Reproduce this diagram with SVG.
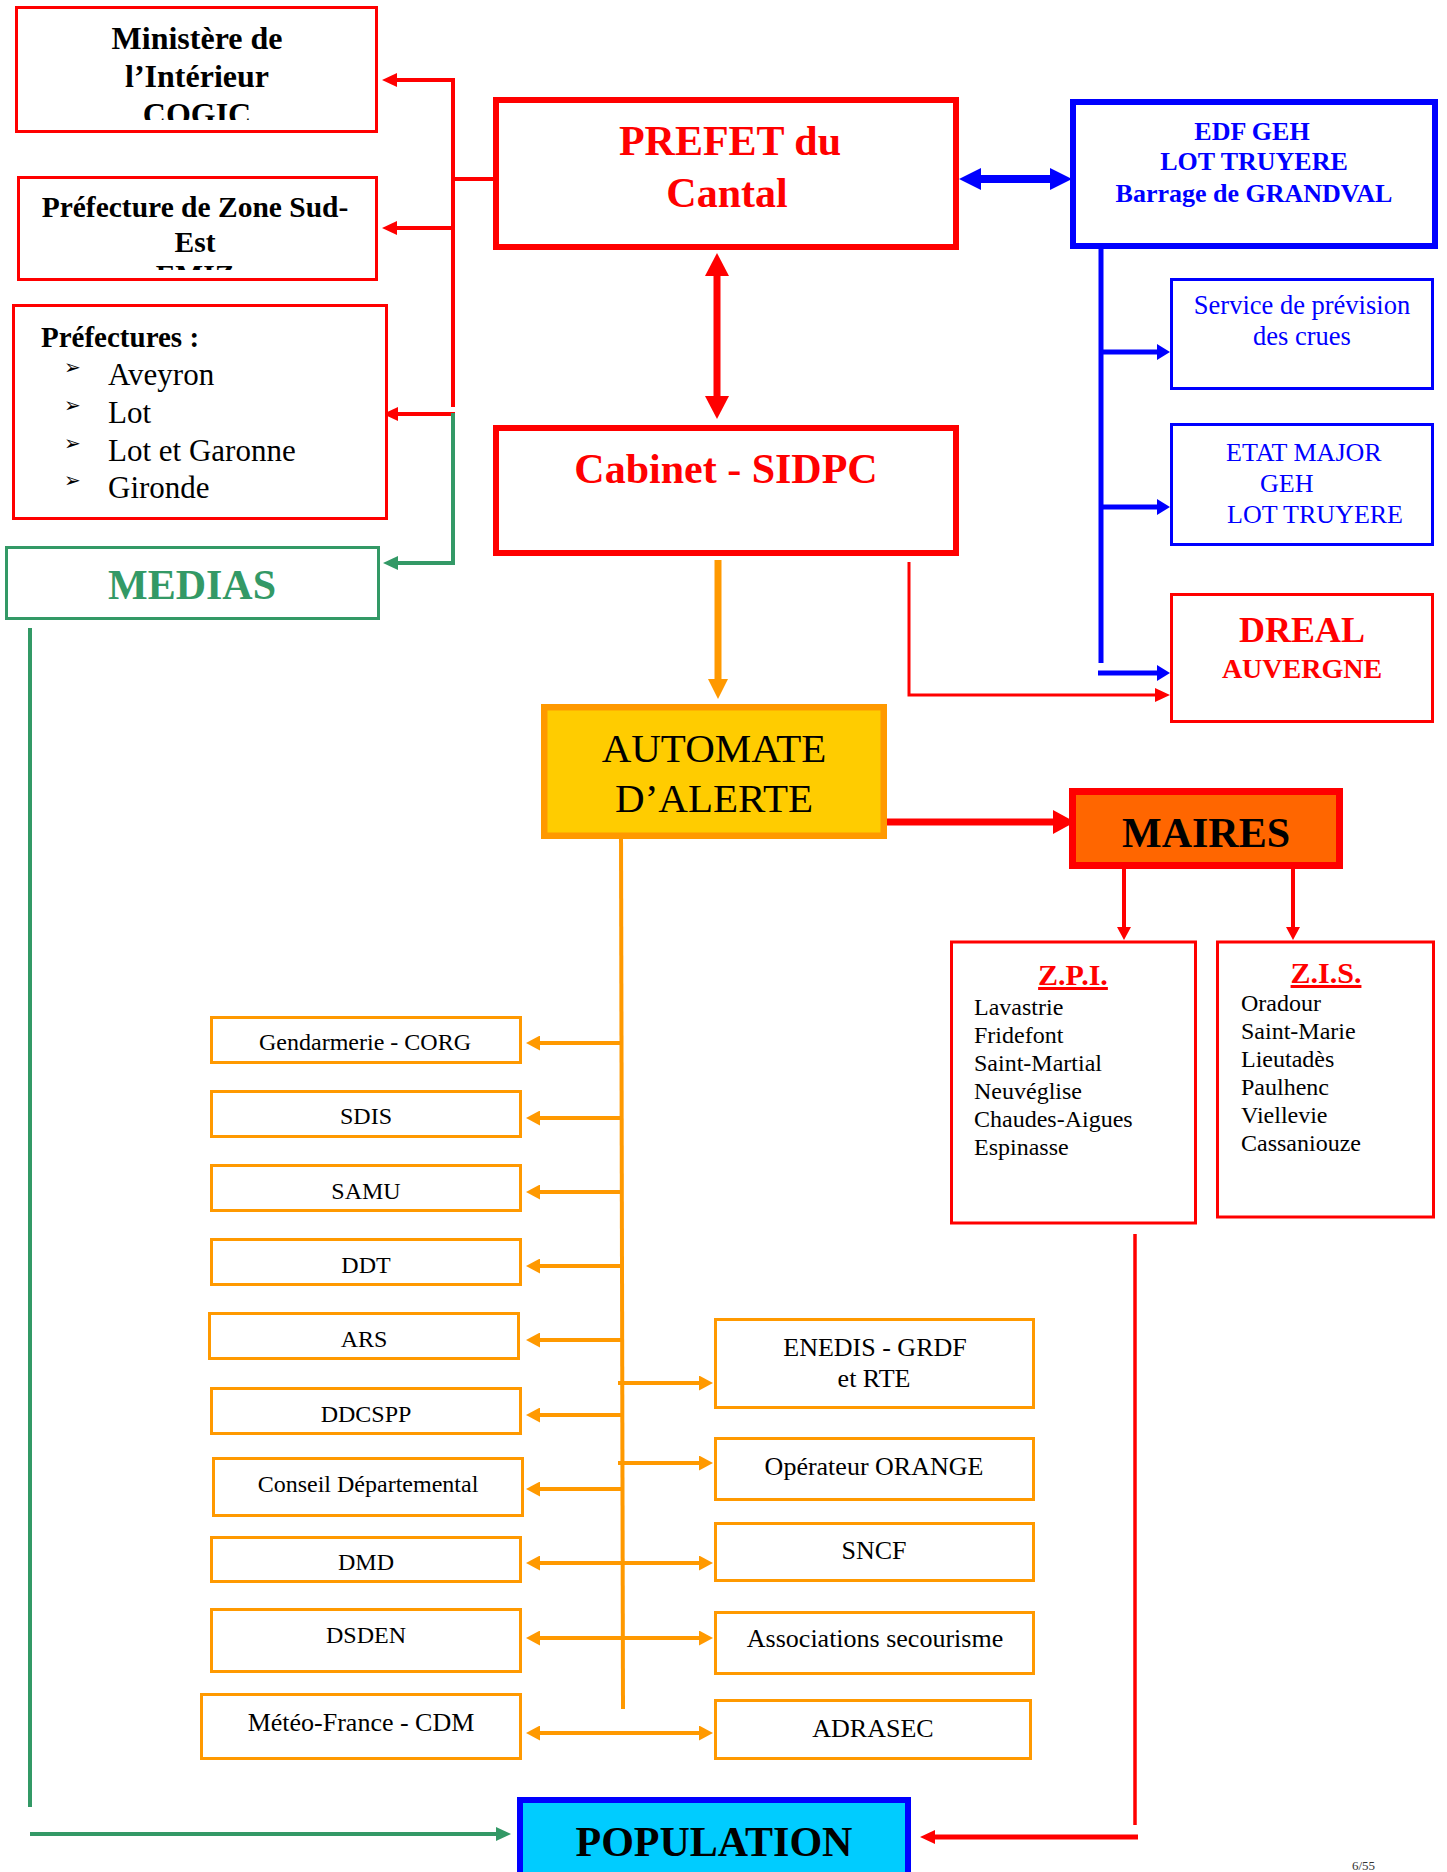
<svg xmlns="http://www.w3.org/2000/svg" width="1447" height="1872" viewBox="0 0 1447 1872">
<style>
text{font-family:"Liberation Serif","Times New Roman",serif}
.c{text-anchor:middle}
.b{font-weight:bold}
.box{fill:#fff}
.red{stroke:#FF0000}
.blue{stroke:#0000FF}
.org{stroke:#FF9900;stroke-width:3}
.grn{stroke:#339966}
.ln{fill:none}
.tr{fill:#FF0000}
.tb{fill:#0000FF}
.tg{fill:#339966}
.bul{font-family:"DejaVu Sans",sans-serif;font-size:20px}
</style>
<defs>
<clipPath id="clipCogic"><rect x="0" y="0" width="400" height="120"/></clipPath>
<clipPath id="clipEmiz"><rect x="0" y="170" width="400" height="100"/></clipPath>
<marker id="ao" markerUnits="userSpaceOnUse" markerWidth="14" markerHeight="15" refX="1" refY="7.5" orient="auto-start-reverse"><path d="M0,0 L14,7.5 L0,15 z" fill="#FF9900"/></marker>
<marker id="aoBig" markerUnits="userSpaceOnUse" markerWidth="20" markerHeight="20" refX="1" refY="10" orient="auto-start-reverse"><path d="M0,0 L20,10 L0,20 z" fill="#FF9900"/></marker>
<marker id="ar" markerUnits="userSpaceOnUse" markerWidth="15" markerHeight="14" refX="1" refY="7" orient="auto-start-reverse"><path d="M0,0 L15,7 L0,14 z" fill="#FF0000"/></marker>
<marker id="arS" markerUnits="userSpaceOnUse" markerWidth="13" markerHeight="14" refX="1" refY="7" orient="auto-start-reverse"><path d="M0,0 L13,7 L0,14 z" fill="#FF0000"/></marker>
<marker id="arBig" markerUnits="userSpaceOnUse" markerWidth="23" markerHeight="24" refX="1" refY="12" orient="auto-start-reverse"><path d="M0,0 L23,12 L0,24 z" fill="#FF0000"/></marker>
<marker id="arM" markerUnits="userSpaceOnUse" markerWidth="22" markerHeight="24" refX="1" refY="12" orient="auto-start-reverse"><path d="M0,0 L22,12 L0,24 z" fill="#FF0000"/></marker>
<marker id="ab" markerUnits="userSpaceOnUse" markerWidth="13" markerHeight="16" refX="1" refY="8" orient="auto-start-reverse"><path d="M0,0 L13,8 L0,16 z" fill="#0000FF"/></marker>
<marker id="abBig" markerUnits="userSpaceOnUse" markerWidth="22" markerHeight="22" refX="1" refY="11" orient="auto-start-reverse"><path d="M0,0 L22,11 L0,22 z" fill="#0000FF"/></marker>
<marker id="ag" markerUnits="userSpaceOnUse" markerWidth="15" markerHeight="14" refX="1" refY="7" orient="auto-start-reverse"><path d="M0,0 L15,7 L0,14 z" fill="#339966"/></marker>
</defs>
<rect width="1447" height="1872" fill="#fff"/>

<g id="connectors" class="ln">
  <path d="M453,78 V407" class="red" stroke-width="4"/>
  <path d="M453,80 H396" class="red" stroke-width="4" marker-end="url(#ar)"/>
  <path d="M453,228 H396" class="red" stroke-width="4" marker-end="url(#ar)"/>
  <path d="M451,179 H500" class="red" stroke-width="4"/>
  <path d="M455,414 H397" class="red" stroke-width="4" marker-end="url(#ar)"/>
  <path d="M453,413 V563 H397" class="grn" stroke-width="4" marker-end="url(#ag)"/>
  <path d="M30,628 V1807" class="grn" stroke-width="4"/>
  <path d="M30,1834 H497" class="grn" stroke-width="4" marker-end="url(#ag)"/>
  <path d="M980,179 H1051" class="blue" stroke-width="8" marker-start="url(#abBig)" marker-end="url(#abBig)"/>
  <path d="M1101,249 V663" class="blue" stroke-width="5"/>
  <path d="M1099,352 H1158" class="blue" stroke-width="5" marker-end="url(#ab)"/>
  <path d="M1099,507 H1158" class="blue" stroke-width="5" marker-end="url(#ab)"/>
  <path d="M1098,673 H1158" class="blue" stroke-width="5" marker-end="url(#ab)"/>
  <path d="M717,275 V397" class="red" stroke-width="7" marker-start="url(#arBig)" marker-end="url(#arBig)"/>
  <path d="M909,562 V695 H1156" class="red" stroke-width="3" marker-end="url(#ar)"/>
  <path d="M887,822 H1054" class="red" stroke-width="7" marker-end="url(#arM)"/>
  <path d="M1124,869 V928" class="red" stroke-width="4" marker-end="url(#arS)"/>
  <path d="M1293,869 V928" class="red" stroke-width="4" marker-end="url(#arS)"/>
  <path d="M1135,1234 V1825" class="red" stroke-width="3.5"/>
  <path d="M1138,1837 H934" class="red" stroke-width="5" marker-end="url(#ar)"/>
  <path d="M718,560 V680" stroke="#FF9900" stroke-width="7" marker-end="url(#aoBig)"/>
  <path d="M621,828 L623,1709" stroke="#FF9900" stroke-width="4"/>
  <g stroke="#FF9900" stroke-width="4">
    <path d="M622,1043 H539" marker-end="url(#ao)"/>
    <path d="M622,1118 H539" marker-end="url(#ao)"/>
    <path d="M622,1192 H539" marker-end="url(#ao)"/>
    <path d="M622,1266 H539" marker-end="url(#ao)"/>
    <path d="M622,1340 H539" marker-end="url(#ao)"/>
    <path d="M622,1415 H539" marker-end="url(#ao)"/>
    <path d="M622,1489 H539" marker-end="url(#ao)"/>
    <path d="M618,1383 H700" marker-end="url(#ao)"/>
    <path d="M618,1463 H700" marker-end="url(#ao)"/>
    <path d="M539,1563 H700" marker-start="url(#ao)" marker-end="url(#ao)"/>
    <path d="M539,1638 H700" marker-start="url(#ao)" marker-end="url(#ao)"/>
    <path d="M539,1733 H700" marker-start="url(#ao)" marker-end="url(#ao)"/>
  </g>
</g>

<g id="ministere">
  <rect x="16.5" y="7.5" width="360" height="124" class="box red" stroke-width="3"/>
  <text class="c b" x="197" y="49" font-size="32">Ministère de</text>
  <text class="c b" x="197" y="87" font-size="32">l’Intérieur</text>
  <text class="c b" x="197" y="125" font-size="32" clip-path="url(#clipCogic)">COGIC</text>
</g>

<g id="zone">
  <rect x="18.5" y="177.5" width="358" height="102" class="box red" stroke-width="3"/>
  <text class="c b" x="195" y="217" font-size="29.5">Préfecture de Zone Sud-</text>
  <text class="c b" x="195" y="252" font-size="29.5">Est</text>
  <text class="c b" x="195" y="285" font-size="29.5" clip-path="url(#clipEmiz)">EMIZ</text>
</g>

<g id="prefectures">
  <rect x="13.5" y="305.5" width="373" height="213" class="box red" stroke-width="3"/>
  <text class="b" x="41" y="347" font-size="29">Préfectures :</text>
  <text class="bul" x="64" y="374">➢</text>
  <text class="bul" x="64" y="412">➢</text>
  <text class="bul" x="64" y="450">➢</text>
  <text class="bul" x="64" y="487">➢</text>
  <text x="108" y="385" font-size="31">Aveyron</text>
  <text x="108" y="423" font-size="31">Lot</text>
  <text x="108" y="461" font-size="31">Lot et Garonne</text>
  <text x="108" y="498" font-size="31">Gironde</text>
</g>

<g id="medias">
  <rect x="6.5" y="547.5" width="372" height="71" class="box grn" stroke-width="3"/>
  <text class="c b tg" x="192" y="599" font-size="42">MEDIAS</text>
</g>

<g id="prefet">
  <rect x="496" y="100" width="460" height="147" class="box red" stroke-width="6"/>
  <text class="c b tr" x="730" y="155" font-size="42">PREFET du</text>
  <text class="c b tr" x="727" y="207" font-size="42">Cantal</text>
</g>

<g id="cabinet">
  <rect x="496" y="428" width="460" height="125" class="box red" stroke-width="6"/>
  <text class="c b tr" x="726" y="483" font-size="42">Cabinet - SIDPC</text>
</g>

<g id="edf">
  <rect x="1073" y="102" width="362" height="144" class="box blue" stroke-width="6"/>
  <text class="c b tb" x="1252" y="140" font-size="26">EDF GEH</text>
  <text class="c b tb" x="1254" y="170" font-size="26">LOT TRUYERE</text>
  <text class="c b tb" x="1254" y="202" font-size="26">Barrage de GRANDVAL</text>
</g>

<g id="service">
  <rect x="1171.5" y="279.5" width="261" height="109" class="box blue" stroke-width="3"/>
  <text class="c tb" x="1302" y="314" font-size="26.5">Service de prévision</text>
  <text class="c tb" x="1302" y="345" font-size="26.5">des crues</text>
</g>

<g id="etatmajor">
  <rect x="1171.5" y="424.5" width="261" height="120" class="box blue" stroke-width="3"/>
  <text class="tb" x="1226" y="461" font-size="26">ETAT MAJOR</text>
  <text class="tb" x="1260" y="492" font-size="26">GEH</text>
  <text class="tb" x="1227" y="523" font-size="26">LOT TRUYERE</text>
</g>

<g id="dreal">
  <rect x="1171.5" y="594.5" width="261" height="127" class="box red" stroke-width="3"/>
  <text class="c b tr" x="1302" y="642" font-size="36">DREAL</text>
  <text class="c b tr" x="1302" y="678" font-size="28">AUVERGNE</text>
</g>

<g id="automate">
  <rect x="544.25" y="707.25" width="339.5" height="128.5" fill="#FFCC00" stroke="#FF9900" stroke-width="6.5"/>
  <text class="c" x="714" y="762" font-size="41">AUTOMATE</text>
  <text class="c" x="714" y="812" font-size="41">D’ALERTE</text>
</g>

<g id="maires">
  <rect x="1072.5" y="791.5" width="267" height="74" fill="#FF6600" class="red" stroke-width="7"/>
  <text class="c b" x="1206" y="847" font-size="42">MAIRES</text>
</g>

<g id="zpi">
  <rect x="951.5" y="942" width="244" height="281" class="box red" stroke-width="3"/>
  <text class="c b tr" x="1073" y="985" font-size="30" text-decoration="underline">Z.P.I.</text>
  <text x="974" y="1015" font-size="24">Lavastrie</text>
  <text x="974" y="1043" font-size="24">Fridefont</text>
  <text x="974" y="1071" font-size="24">Saint-Martial</text>
  <text x="974" y="1099" font-size="24">Neuvéglise</text>
  <text x="974" y="1127" font-size="24">Chaudes-Aigues</text>
  <text x="974" y="1155" font-size="24">Espinasse</text>
</g>

<g id="zis">
  <rect x="1217.5" y="942" width="216" height="275" class="box red" stroke-width="3"/>
  <text class="c b tr" x="1326" y="983" font-size="30" text-decoration="underline">Z.I.S.</text>
  <text x="1241" y="1011" font-size="24">Oradour</text>
  <text x="1241" y="1039" font-size="24">Saint-Marie</text>
  <text x="1241" y="1067" font-size="24">Lieutadès</text>
  <text x="1241" y="1095" font-size="24">Paulhenc</text>
  <text x="1241" y="1123" font-size="24">Viellevie</text>
  <text x="1241" y="1151" font-size="24">Cassaniouze</text>
</g>

<g id="gendarmerie"><rect x="211.5" y="1017.5" width="309" height="45" class="box org"/><text class="c" x="365" y="1050" font-size="24">Gendarmerie - CORG</text></g>
<g id="sdis"><rect x="211.5" y="1091.5" width="309" height="45" class="box org"/><text class="c" x="366" y="1124" font-size="24">SDIS</text></g>
<g id="samu"><rect x="211.5" y="1165.5" width="309" height="45" class="box org"/><text class="c" x="366" y="1199" font-size="24">SAMU</text></g>
<g id="ddt"><rect x="211.5" y="1239.5" width="309" height="45" class="box org"/><text class="c" x="366" y="1273" font-size="24">DDT</text></g>
<g id="ars"><rect x="209.5" y="1313.5" width="309" height="45" class="box org"/><text class="c" x="364" y="1347" font-size="24">ARS</text></g>
<g id="ddcspp"><rect x="211.5" y="1388.5" width="309" height="45" class="box org"/><text class="c" x="366" y="1422" font-size="24">DDCSPP</text></g>
<g id="conseil"><rect x="213.5" y="1458.5" width="309" height="57" class="box org"/><text class="c" x="368" y="1492" font-size="24">Conseil Départemental</text></g>
<g id="dmd"><rect x="211.5" y="1537.5" width="309" height="44" class="box org"/><text class="c" x="366" y="1570" font-size="24">DMD</text></g>
<g id="dsden"><rect x="211.5" y="1609.5" width="309" height="62" class="box org"/><text class="c" x="366" y="1643" font-size="24">DSDEN</text></g>
<g id="meteo"><rect x="201.5" y="1694.5" width="319" height="64" class="box org"/><text class="c" x="361" y="1731" font-size="26">Météo-France - CDM</text></g>

<g id="enedis"><rect x="715.5" y="1319.5" width="318" height="88" class="box org"/><text class="c" x="875" y="1356" font-size="26">ENEDIS - GRDF</text><text class="c" x="874" y="1387" font-size="26">et RTE</text></g>
<g id="orange"><rect x="715.5" y="1438.5" width="318" height="61" class="box org"/><text class="c" x="874" y="1475" font-size="26">Opérateur ORANGE</text></g>
<g id="sncf"><rect x="715.5" y="1523.5" width="318" height="57" class="box org"/><text class="c" x="874" y="1559" font-size="26">SNCF</text></g>
<g id="associations"><rect x="715.5" y="1612.5" width="318" height="61" class="box org"/><text class="c" x="875" y="1647" font-size="26">Associations secourisme</text></g>
<g id="adrasec"><rect x="715.5" y="1700.5" width="315" height="58" class="box org"/><text class="c" x="873" y="1737" font-size="26">ADRASEC</text></g>

<g id="population">
  <rect x="520" y="1800" width="388" height="110" fill="#00CCFF" class="blue" stroke-width="6"/>
  <text class="c b" x="714" y="1856" font-size="42">POPULATION</text>
</g>

<text x="1352" y="1870" font-size="13" fill="#333">6/55</text>
</svg>
